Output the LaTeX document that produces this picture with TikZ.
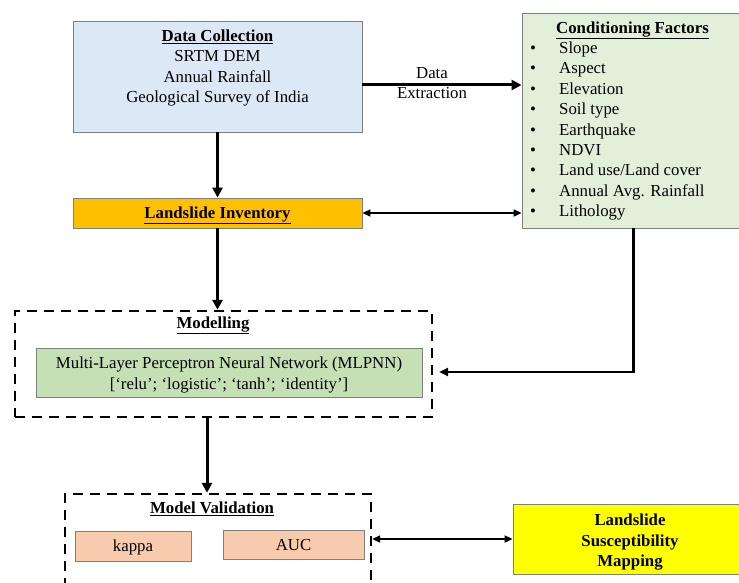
\documentclass[tikz,border=0pt]{standalone}
\usepackage{fontspec}
\setmainfont{Liberation Serif}
\usetikzlibrary{arrows.meta,calc}
\definecolor{dcblue}{HTML}{DCE8F5}
\definecolor{liorange}{HTML}{FFC000}
\definecolor{cfgreen}{HTML}{E2F0D9}
\definecolor{mlgreen}{HTML}{C5E0B4}
\definecolor{valpink}{HTML}{F8CBAD}
\definecolor{lsmyellow}{HTML}{FFFF00}
\definecolor{boxgray}{HTML}{7F7F7F}
\begin{document}
\begin{tikzpicture}[x=1pt,y=-1pt,
  box/.style={draw=boxgray, line width=0.9pt, inner sep=0pt},
  dbox/.style={draw=black, line width=2.4pt, dash pattern=on 10pt off 7pt, inner sep=0pt},
  txt/.style={font=\fontsize{16.8}{20.4}\selectfont, inner sep=0pt, align=center},
  btxt/.style={font=\fontsize{16.8}{20.4}\selectfont\bfseries, inner sep=0pt, align=center},
  bigarr/.style={-{Triangle[length=10pt,width=10pt]}, line width=3pt},
  midarr/.style={-{Triangle[length=9pt,width=8pt]}, line width=2.4pt},
  dblarr/.style={{Triangle[length=8pt,width=7pt]}-{Triangle[length=8pt,width=7pt]}, line width=2pt}
]
\clip (0,0) rectangle (739,583);
\fill[white] (0,0) rectangle (739,583);

% boxes
\node[box, fill=dcblue, minimum width=289pt, minimum height=111pt] (DC) at (217.5,76.5) {};
\node[box, fill=liorange, minimum width=289pt, minimum height=30pt] (LI) at (217.5,213) {};
\node[box, fill=cfgreen, minimum width=223pt, minimum height=215pt] (CF) at (633.5,120.5) {};
\node[dbox, minimum width=417pt, minimum height=106pt] (MOD) at (223.5,364) {};
\node[box, fill=mlgreen, minimum width=386pt, minimum height=49pt] (ML) at (229,372.5) {};
\node[dbox, minimum width=306pt, minimum height=120pt] (MV) at (218,554) {};
\node[box, fill=valpink, minimum width=116pt, minimum height=30pt] (KA) at (133,546) {};
\node[box, fill=valpink, minimum width=141pt, minimum height=29pt] (AUC) at (293.5,544.5) {};
\node[box, fill=lsmyellow, minimum width=232pt, minimum height=70pt] (LSM) at (629,539) {};

% texts
\node[txt, anchor=base] (dct) at (217.5,41.5) {\textbf{\underline{Data Collection}}};
\node[txt, anchor=base] (dc1) at (217.5,62) {SRTM DEM};
\node[txt, anchor=base] (dc2) at (217.5,82.5) {Annual Rainfall};
\node[txt, anchor=base] (dc3) at (217.5,103) {Geological Survey of India};
\node[btxt, anchor=base] (lit) at (217.5,218.5) {\underline{Landslide Inventory}};
\node[btxt, anchor=base] (cft) at (632.5,33.5) {\underline{Conditioning Factors}};
\foreach \t [count=\i from 0] in {Slope,Aspect,Elevation,Soil type,Earthquake,NDVI,Land use/Land cover,Annual Avg. Rainfall,Lithology}{
  \node[txt, anchor=base] (b\i) at (533,48+20.4*\i+5.5) {•};
  \node[txt, anchor=base west] (f\i) at (559,48+20.4*\i+5.5) {\t};
}
\node[txt, anchor=base] (dx1) at (432,78.5) {Data};
\node[txt, anchor=base] (dx2) at (432,98.5) {Extraction};
\node[btxt, anchor=base] (modt) at (213,328.5) {\underline{Modelling}};
\node[txt, anchor=base] (ml1) at (229,368.5) {Multi-Layer Perceptron Neural Network (MLPNN)};
\node[txt, anchor=base] (ml2) at (229,389) {[‘relu’; ‘logistic’; ‘tanh’; ‘identity’]};
\node[btxt, anchor=base] (mvt) at (212,513.5) {\underline{Model Validation}};
\node[txt, anchor=base] (kat) at (133,551.5) {kappa};
\node[txt, anchor=base] (auct) at (293.5,550) {AUC};
\node[btxt, anchor=base] (ls1) at (630,525.5) {Landslide};
\node[btxt, anchor=base] (ls2) at (630,546.5) {Susceptibility};
\node[btxt, anchor=base] (ls3) at (630,566) {Mapping};

% connectors
\draw[bigarr] (DC.south) -- (LI.north);
\draw[bigarr] ([yshift=-8.5pt]DC.east) -- ([yshift=-8.5pt]DC.east -| CF.west);
\draw[dblarr] (LI.east) -- (LI.east -| CF.west);
\draw[bigarr] (LI.south) -- (LI.south |- MOD.north);
\coordinate (cfin) at ([xshift=6pt,yshift=-8pt]MOD.east);
\draw[midarr] (CF.south) |- (cfin);
\coordinate (modout) at ([xshift=-16.5pt]MOD.south);
\draw[bigarr] (modout) -- (modout |- MV.north);
\draw[dblarr] (LSM.west -| MV.east) -- (LSM.west);
\end{tikzpicture}
\end{document}
